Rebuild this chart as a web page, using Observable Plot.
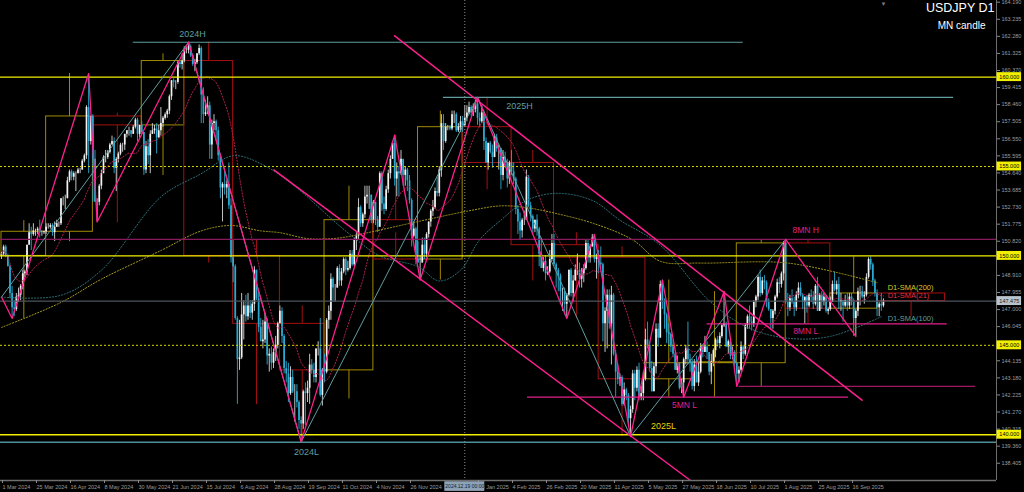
<!DOCTYPE html>
<html><head><meta charset="utf-8">
<script src="https://cdn.jsdelivr.net/npm/d3@7"></script>
<script src="https://cdn.jsdelivr.net/npm/@observablehq/plot@0.6"></script>
<style>html,body{margin:0;padding:0;background:#000;overflow:hidden}svg{display:block}</style>
</head><body><div id="chart"></div>
<script>
// ---- axis ticks ----
const yTicks = [164.190,163.235,162.280,161.325,160.370,159.415,158.460,157.505,156.550,155.595,154.640,153.685,152.730,151.775,150.820,148.910,147.955,147.000,146.045,144.135,143.180,142.225,141.270,140.315,139.360,138.405];
const xTickIdx = [0,16,32,48,64,80,96,112,128,144,160,176,192,224,240,256,272,288,304,320,336,352,368,384,400];
const xTickLabels = ["1 Mar 2024","25 Mar 2024","16 Apr 2024","8 May 2024","30 May 2024","21 Jun 2024","15 Jul 2024","6 Aug 2024","28 Aug 2024","19 Sep 2024","11 Oct 2024","4 Nov 2024","26 Nov 2024","13 Jan 2025","4 Feb 2025","26 Feb 2025","20 Mar 2025","11 Apr 2025","5 May 2025","27 May 2025","18 Jun 2025","10 Jul 2025","1 Aug 2025","25 Aug 2025","16 Sep 2025"];

// ---- daily candles [open, high, low, close] ----
const mar24 = [[150.0,150.2,149.8,150.1],[150.1,150.6,150.0,150.5],[150.5,150.6,149.9,150.0],[150.0,150.1,149.4,149.4],[149.4,149.5,147.6,147.9],[147.9,148.3,146.5,147.1],[147.1,147.5,146.6,147.0],[147.0,147.9,146.9,147.7],[147.7,148.2,147.4,147.8],[147.8,148.4,147.5,148.3],[148.3,149.2,148.1,149.0],[149.0,149.2,148.8,149.1],[149.1,150.6,148.9,150.6],[150.6,151.8,150.6,151.3],[151.3,151.6,150.3,151.2],[151.2,151.8,151.1,151.4],[151.4,151.5,151.1,151.4],[151.4,151.6,151.2,151.5],[151.5,152.0,151.0,151.3],[151.3,151.4,151.1,151.3],[151.3,151.4,151.2,151.35]];
const apr24 = [[151.35,151.8,151.2,151.6],[151.6,151.8,151.5,151.6],[151.6,151.8,151.5,151.7],[151.7,151.8,151.1,151.3],[151.3,151.9,150.8,151.6],[151.6,152.0,151.6,151.8],[151.8,151.9,151.6,151.8],[151.8,153.2,151.7,153.2],[153.2,153.3,152.8,153.2],[153.2,153.4,152.6,153.2],[153.2,154.4,153.2,154.2],[154.2,154.8,154.1,154.7],[154.7,154.8,154.2,154.4],[154.4,154.7,154.2,154.6],[154.6,154.7,153.6,154.6],[154.6,154.9,154.6,154.8],[154.8,154.9,154.6,154.8],[154.8,155.4,154.8,155.3],[155.3,155.7,155.2,155.6],[155.6,158.4,155.4,158.3],[158.3,160.2,154.6,156.4],[156.4,157.8,156.2,157.8]];
const may24 = [[157.8,157.9,153.0,155.4],[155.4,155.9,153.0,153.0],[153.0,153.2,151.9,153.0],[153.0,154.0,152.8,153.9],[153.9,154.8,153.7,154.6],[154.6,155.6,154.6,155.5],[155.5,155.9,155.2,155.5],[155.5,155.9,155.4,155.8],[155.8,156.3,155.7,156.2],[156.2,156.7,156.2,156.4],[156.4,156.6,154.6,154.9],[154.9,155.5,153.6,155.4],[155.4,155.8,155.2,155.7],[155.7,156.3,155.6,156.2],[156.2,156.3,155.8,156.2],[156.2,156.8,155.9,156.8],[156.8,157.0,156.6,157.0],[157.0,157.2,156.7,157.0],[157.0,157.0,156.6,156.8],[156.8,157.3,156.8,157.2],[157.2,157.7,157.1,157.6],[157.6,157.7,156.4,156.8],[156.8,157.3,156.6,157.3]];
const jun24 = [[157.3,157.5,156.8,156.9],[156.9,156.9,154.5,154.8],[154.8,156.4,154.6,156.1],[156.1,156.5,155.1,155.6],[155.6,157.0,154.6,156.8],[156.8,157.4,156.8,157.0],[157.0,157.3,156.8,157.1],[157.1,157.4,155.7,156.6],[156.6,157.3,156.6,157.0],[157.0,158.3,156.7,157.4],[157.4,157.8,157.2,157.7],[157.7,158.0,157.6,157.9],[157.9,158.2,157.7,158.1],[158.1,159.0,157.9,158.9],[158.9,159.8,158.7,159.8],[159.8,159.9,159.4,159.7],[159.7,159.8,159.3,159.7],[159.7,160.9,159.6,160.8],[160.8,160.9,160.5,160.7],[160.7,161.3,160.4,160.9]];
const jul24 = [[160.9,161.7,160.8,161.5],[161.5,161.7,161.3,161.5],[161.5,161.95,161.3,161.7],[161.7,161.8,161.1,161.2],[161.2,161.3,160.6,160.7],[160.7,161.0,160.3,160.8],[160.8,161.3,160.7,161.3],[161.3,161.8,161.2,161.6],[161.6,161.7,157.4,159.0],[159.0,159.4,157.4,157.9],[157.9,158.7,157.8,158.0],[158.0,158.9,157.9,158.4],[158.4,158.6,155.4,156.2],[156.2,157.6,155.4,157.4],[157.4,157.9,157.0,157.5],[157.5,157.6,156.5,157.0],[157.0,157.2,155.3,155.6],[155.6,155.7,153.2,153.8],[153.8,154.1,151.9,154.0],[154.0,154.7,153.4,153.8],[153.8,154.2,153.2,154.0],[154.0,155.2,152.6,152.8],[152.8,153.2,149.6,149.9]];
const aug24 = [[149.9,150.9,148.5,149.4],[149.4,149.5,146.4,146.5],[146.5,146.6,141.7,144.2],[144.2,146.4,143.6,144.3],[144.3,147.9,144.2,146.7],[146.7,147.5,145.3,147.2],[147.2,147.8,146.3,146.6],[146.6,147.9,146.4,147.2],[147.2,147.5,146.5,146.8],[146.8,147.5,146.4,147.3],[147.3,149.4,146.9,149.2],[149.2,149.2,147.5,147.6],[147.6,148.0,145.7,146.0],[146.0,146.5,145.2,145.2],[145.2,146.4,144.8,145.3],[145.3,146.8,145.1,146.3],[146.3,146.5,143.9,144.4],[144.4,144.8,143.5,144.5],[144.5,144.9,143.6,144.0],[144.0,144.8,143.7,144.6],[144.6,145.5,144.1,145.0],[145.0,146.3,144.8,146.2]];
const sep24 = [[146.2,147.2,146.2,146.9],[146.9,147.1,145.1,145.5],[145.5,145.6,143.4,143.7],[143.7,144.1,142.9,143.4],[143.4,144.0,141.8,142.3],[142.3,143.8,142.2,143.2],[143.2,143.6,142.3,142.4],[142.4,142.8,140.7,142.4],[142.4,142.8,141.5,141.8],[141.8,141.9,140.3,140.8],[140.8,141.0,139.6,140.6],[140.6,142.5,140.3,142.4],[142.4,142.9,140.5,142.3],[142.3,143.0,141.8,142.6],[142.6,144.5,141.7,143.9],[143.9,144.2,143.4,143.6],[143.6,144.0,142.9,143.2],[143.2,144.8,142.9,144.8],[144.8,145.2,144.4,144.8],[144.8,146.5,142.1,142.2],[142.2,143.7,141.6,143.6]];
const oct24 = [[143.6,144.5,142.9,143.5],[143.5,146.5,143.4,146.4],[146.4,147.2,145.9,146.9],[146.9,149.0,146.4,148.7],[148.7,148.8,147.4,148.2],[148.2,148.4,147.4,148.2],[148.2,149.4,148.2,149.3],[149.3,149.5,148.3,148.6],[148.6,149.3,148.3,149.1],[149.1,149.9,149.0,149.8],[149.8,149.9,148.9,149.2],[149.2,149.7,149.1,149.3],[149.3,150.3,149.2,150.1],[150.1,150.3,149.4,149.5],[149.5,151.0,149.4,150.9],[150.9,151.3,150.3,151.1],[151.1,153.2,150.9,152.7],[152.7,152.8,151.6,151.8],[151.8,152.4,151.6,152.3],[152.3,153.9,152.1,153.3],[153.3,153.9,152.9,153.4],[153.4,153.9,152.6,153.4],[153.4,153.4,151.8,152.0]];
const nov24 = [[152.0,153.1,151.8,153.0],[153.0,153.0,151.7,152.0],[152.0,152.2,151.3,151.6],[151.6,154.7,151.6,154.6],[154.6,154.7,152.5,152.9],[152.9,153.3,152.3,152.6],[152.6,153.9,152.5,153.7],[153.7,154.8,153.5,154.6],[154.6,155.6,154.3,155.4],[155.4,156.4,155.4,156.3],[156.3,156.75,153.9,154.3],[154.3,155.2,153.3,154.7],[154.7,155.0,153.3,154.6],[154.6,155.9,154.5,155.4],[155.4,155.4,153.9,154.5],[154.5,155.0,153.9,154.8],[154.8,154.9,153.6,154.2],[154.2,154.5,152.9,153.1],[153.1,153.2,150.5,151.1],[151.1,151.9,151.0,151.5],[151.5,151.6,149.5,149.8]];
const dec24 = [[149.8,150.8,149.6,149.6],[149.6,150.0,148.65,149.6],[149.6,151.0,149.6,150.6],[150.6,151.0,149.8,150.1],[150.1,151.3,149.9,151.2],[151.2,151.9,151.0,151.9],[151.9,152.6,151.6,152.5],[152.5,153.1,152.2,152.7],[152.7,153.8,152.6,153.6],[153.6,154.4,153.3,153.5],[153.5,155.0,153.3,154.8],[154.8,157.9,154.4,157.4],[157.4,157.9,155.9,156.4],[156.4,157.4,156.3,157.2],[157.2,157.3,157.0,157.2],[157.2,157.3,157.0,157.1],[157.1,158.1,157.0,157.9],[157.9,158.1,157.4,157.9],[157.9,158.0,156.9,157.0],[157.0,157.4,156.9,157.2],[157.2,157.8,156.9,157.5]];
const jan25 = [[157.5,157.8,156.9,157.3],[157.3,158.4,157.2,157.7],[157.7,158.4,157.5,158.0],[158.0,158.6,157.9,158.3],[158.3,158.4,157.8,158.0],[158.0,158.5,157.8,158.2],[158.2,158.7,158.0,158.5],[158.5,158.87,157.3,157.7],[157.7,158.0,157.2,157.5],[157.5,158.4,157.4,158.0],[158.0,158.1,155.9,156.4],[156.4,156.6,155.2,155.2],[155.2,156.3,154.8,156.3],[156.3,156.4,155.7,155.8],[155.8,156.2,154.9,155.5],[155.5,156.8,155.5,156.6],[156.6,156.8,155.8,156.0],[156.0,156.2,154.8,156.0],[156.0,156.0,153.7,154.5],[154.5,155.9,154.2,155.5],[155.5,155.8,154.9,155.2],[155.2,155.4,153.8,154.3],[154.3,155.3,154.0,155.2]];
const feb25 = [[155.2,155.9,154.5,154.7],[154.7,155.2,154.0,154.3],[154.3,154.4,152.3,152.6],[152.6,152.8,151.2,151.9],[151.9,152.4,150.9,151.4],[151.4,152.1,151.0,152.0],[152.0,152.5,151.7,152.0],[152.0,154.8,152.0,154.4],[154.4,154.5,152.7,152.8],[152.8,153.0,151.9,152.2],[152.2,152.3,151.2,151.5],[151.5,152.0,151.3,152.0],[152.0,152.3,151.1,151.5],[151.5,151.6,149.4,150.1],[150.1,151.0,149.3,149.3],[149.3,149.9,149.1,149.7],[149.7,150.0,148.6,149.0],[149.0,149.4,148.9,149.1],[149.1,150.3,149.0,149.8],[149.8,151.2,149.7,150.7]];
const mar25 = [[150.7,151.2,149.4,149.5],[149.5,149.6,148.2,149.2],[149.2,149.3,148.0,148.9],[148.9,149.0,147.3,148.0],[148.0,148.2,146.9,148.0],[148.0,148.2,146.7,147.3],[147.3,147.9,146.5,147.8],[147.8,149.2,147.7,149.2],[149.2,149.3,147.7,147.9],[147.9,148.9,147.4,148.6],[148.6,149.5,148.6,149.2],[149.2,150.1,148.9,149.2],[149.2,149.6,148.2,148.7],[148.7,149.3,148.2,149.0],[149.0,149.5,148.5,149.3],[149.3,150.9,149.2,150.7],[150.7,150.9,149.6,149.9],[149.9,150.6,149.6,150.5],[150.5,151.2,150.5,151.0],[151.0,151.2,149.6,149.8],[149.8,150.1,148.7,149.9]];
const apr25 = [[149.9,150.3,149.0,149.6],[149.6,150.5,149.3,149.5],[149.5,149.6,145.2,146.2],[146.2,147.1,144.6,146.9],[146.9,148.1,144.8,147.8],[147.8,148.1,145.9,146.2],[146.2,148.3,143.9,147.8],[147.8,147.9,144.4,144.5],[144.5,144.7,142.1,143.5],[143.5,143.9,142.8,143.1],[143.1,143.4,142.7,143.2],[143.2,143.3,141.6,141.7],[141.7,142.9,141.6,142.5],[142.5,142.6,141.9,142.2],[142.2,142.3,140.6,140.9],[140.9,141.6,139.9,141.4],[141.4,143.6,141.2,143.4],[143.4,143.6,141.9,142.6],[142.6,143.8,142.4,143.6],[143.6,144.0,141.9,142.1],[142.1,142.7,141.9,142.3],[142.3,143.5,141.9,143.1]];
const may25 = [[143.1,145.9,143.0,145.3],[145.3,146.3,144.8,145.0],[145.0,145.2,143.5,143.7],[143.7,144.1,142.4,142.4],[142.4,144.0,142.4,143.8],[143.8,146.2,143.4,145.9],[145.9,146.2,144.9,145.4],[145.4,148.6,145.4,148.4],[148.4,148.65,147.0,147.5],[147.5,147.6,145.9,146.7],[146.7,146.8,145.1,145.7],[145.7,146.2,145.0,145.6],[145.6,145.7,144.6,144.9],[144.9,145.3,144.3,144.5],[144.5,144.6,143.6,143.6],[143.6,144.4,143.4,144.0],[144.0,144.0,142.5,142.6],[142.6,143.1,142.3,142.9],[142.9,144.3,142.1,144.2],[144.2,145.0,143.9,144.8],[144.8,146.3,143.9,144.2],[144.2,144.5,143.5,144.0]];
const jun25 = [[144.0,144.2,142.5,142.7],[142.7,144.2,142.4,143.9],[143.9,144.4,142.9,142.9],[142.9,144.0,142.7,143.5],[143.5,145.1,143.4,144.9],[144.9,145.0,144.3,144.6],[144.6,145.5,144.6,144.9],[144.9,145.2,144.2,144.6],[144.6,144.6,143.3,143.5],[143.5,144.5,142.8,144.1],[144.1,144.8,143.8,144.7],[144.7,145.4,144.3,145.3],[145.3,145.5,144.9,145.1],[145.1,145.7,144.8,145.5],[145.5,146.2,145.4,146.1],[146.1,148.0,146.0,146.2],[146.2,146.3,144.9,144.9],[144.9,145.3,144.5,145.2],[145.2,145.3,144.2,144.4],[144.4,144.9,144.2,144.6],[144.6,144.7,143.8,144.0]];
const jul25 = [[144.0,144.0,142.7,143.4],[143.4,143.8,142.9,143.6],[143.6,145.2,143.5,144.9],[144.9,145.0,144.2,144.5],[144.5,146.2,144.4,146.1],[146.1,146.7,145.9,146.6],[146.6,147.2,145.9,146.3],[146.3,146.6,145.8,146.2],[146.2,147.5,146.0,147.4],[147.4,147.8,147.1,147.7],[147.7,148.9,147.5,148.8],[148.8,149.2,147.7,147.9],[147.9,148.8,147.8,148.6],[148.6,148.9,148.1,148.5],[148.5,148.6,147.1,147.4],[147.4,147.6,146.9,147.0],[147.0,147.0,145.9,146.5],[146.5,147.0,145.9,146.9],[146.9,147.8,146.7,147.7],[147.7,148.7,147.6,148.5],[148.5,148.8,147.9,148.4],[148.4,149.1,148.2,149.0],[149.0,150.8,148.6,150.7]];
const aug25 = [[150.7,150.92,147.3,147.4],[147.4,147.9,146.6,147.1],[147.1,147.8,146.9,147.6],[147.6,148.1,147.3,147.4],[147.4,147.7,146.6,147.1],[147.1,148.0,146.9,147.8],[147.8,148.5,147.6,148.2],[148.2,148.5,147.7,147.8],[147.8,147.9,147.0,147.4],[147.4,147.6,146.2,147.7],[147.7,147.8,146.8,147.2],[147.2,147.9,147.1,147.8],[147.8,148.1,147.4,147.7],[147.7,148.0,147.0,147.3],[147.3,148.4,147.2,148.3],[148.3,148.8,146.9,146.9],[146.9,147.9,146.9,147.8],[147.8,148.0,147.0,147.4],[147.4,147.9,147.2,147.7],[147.7,147.8,146.8,146.9],[146.9,147.1,146.7,147.0]];
const sep25 = [[147.0,147.7,146.9,147.4],[147.4,148.6,147.4,148.4],[148.4,149.1,148.0,148.1],[148.1,148.6,147.8,148.4],[148.4,148.8,147.0,147.4],[147.4,147.9,146.9,147.5],[147.5,147.5,146.3,147.2],[147.2,147.8,147.1,147.5],[147.5,147.9,146.9,147.2],[147.2,147.9,147.0,147.7],[147.7,147.9,147.2,147.4],[147.4,147.6,146.2,146.5],[146.5,147.0,145.5,146.9],[146.9,148.2,146.6,148.0],[148.0,148.3,147.2,148.0],[148.0,148.3,147.6,147.7],[147.7,148.0,147.3,147.8],[147.8,149.0,147.7,148.8],[148.8,149.9,148.7,149.8],[149.8,149.95,149.2,149.5],[149.5,149.6,148.3,148.6],[148.6,148.7,147.7,147.9]];
const oct25 = [[147.9,148.1,146.6,147.1],[147.1,147.4,146.6,147.3],[147.3,147.9,146.9,147.2],[147.2,147.6,147.1,147.475]];

// ---- monthly candles (MN overlay) ----
const monthStart = [0,21,43,66,86,109,131,152,175,196,217,240,260,281,303,325,346,369,390,412];
const monthEnd   = [21,43,66,86,109,131,152,175,196,217,240,260,281,303,325,346,369,390,412,444];
const monthOpen  = [150.0,151.35,157.8,157.3,160.9,150.0,146.2,143.6,152.0,149.8,157.2,155.2,150.6,149.9,143.1,144.0,144.0,150.7,147.05,147.9];
const monthHigh  = [151.97,160.2,157.99,161.3,161.95,150.9,147.2,153.9,156.75,158.1,158.87,155.9,151.3,150.5,148.65,148.0,150.9,150.92,149.95,148.1];
const monthLow   = [146.5,150.8,151.86,154.5,149.6,141.68,139.58,142.0,151.3,148.65,153.7,148.6,146.5,139.89,142.1,142.1,142.7,146.2,145.5,146.6];
const monthClose = [151.35,157.8,157.3,160.9,150.0,146.2,143.6,152.0,149.8,157.2,155.2,150.6,149.9,143.1,144.0,144.05,150.7,147.05,147.9,147.475];

// ---- moving averages ----
const sma100Idx = [0,28,47,75,94,109,123,139,155,164,178,196,206,216,225,235,247,261,278,291,310,333,351,370,390,414];
const sma100Val = [147.7,147.8,149.2,153.3,154.6,155.6,155.1,153.8,152.1,151.2,150.0,149.4,148.6,149.2,150.9,152.0,153.1,153.5,153.1,152.0,150.6,147.5,146.0,145.4,145.5,146.6];
const sma200Idx = [0,28,47,75,94,108,122,131,144,156,164,199,219,235,247,260,279,297,310,329,370,412];
const sma200Val = [146.0,147.4,148.7,150.3,151.4,151.7,151.4,151.3,150.97,150.97,151.1,152.0,152.5,152.8,152.7,152.4,151.8,150.9,149.7,149.6,149.6,148.5];

// ---- levels & drawings ----
const solidLevels = [160,150,140];
const dottedLevels = [155,145];
const monthHighLevel = [150.92];
const currentPrice = [147.475];
const yearLowLevel = [139.58];
const tealSegPrice = [161.95,158.87];
const tealSegFrom = [62,208];
const tealSegTo = [349,448];
const pinkSegPrice = [142.1,146.2];
const pinkSegFrom = [247.5,332];
const pinkSegTo = [398.6,445];
const plumSegPrice = [142.7];
const plumSegFrom = [347];
const plumSegTo = [458.4];
const channelFrom = [[184.7,162.33],[128,154.83]];
const channelTo = [[405.2,141.91],[324.2,137.44]];
const zzIdx = [0,5,41,45,88,141,185,197,224,266,279,296,311,321,340,346,369,402];
const zzPrice = [147.7,146.5,160.2,151.9,161.95,139.6,156.75,148.65,158.87,146.5,151.2,139.9,148.65,142.1,148.0,142.7,150.92,145.5];
const bigZzIdx = [0,88,141,224,296,369];
const bigZzPrice = [147.7,161.95,139.6,158.87,139.9,150.92];
const tealLabels = ["2024H","2025H","2024L"];
const tealLabelIdx = [89.9,243.8,143.5];
const tealLabelPrice = [162.38,158.36,139.0];
const pinkLabels = ["5MN L","8MN H","8MN L"];
const pinkLabelIdx = [321.4,378.4,378.4];
const pinkLabelPrice = [141.63,151.42,145.77];
const lowLabel = ["2025L"];
const lowLabelIdx = [311.5];
const lowLabelPrice = [140.5];
const smaNames = ["D1-SMA(200)","D1-SMA(21)","D1-SMA(100)"];
const smaLabelPrice = [148.23,147.79,146.5];
const smaLabelIdx = 417;
const priceTags = [160,155,150,145,140];
const crossIdx = 218;
const crossText = "2024.12.19 00:00";

// ---- build tables ----
const rows = [].concat(mar24,apr24,may24,jun24,jul24,aug24,sep24,oct24,nov24,dec24,jan25,feb25,mar25,apr25,may25,jun25,jul25,aug25,sep25,oct25);
const candles = rows.map(([o,h,l,c],i) => ({i,o,h,l,c,up:c>=o}));
const months = monthStart.map((s,k) => ({s, e:monthEnd[k], m:(s+monthEnd[k])/2, o:monthOpen[k], h:monthHigh[k], l:monthLow[k], c:monthClose[k], up:monthClose[k]>=monthOpen[k]}));
const sma100 = sma100Idx.map((x,k)=>({x,y:sma100Val[k]}));
const sma200 = sma200Idx.map((x,k)=>({x,y:sma200Val[k]}));
const zz = zzIdx.map((x,k)=>({x,y:zzPrice[k]}));
const bigZz = bigZzIdx.map((x,k)=>({x,y:bigZzPrice[k]}));
const channels = channelFrom.map((a,k)=>({x1:a[0],y1:a[1],x2:channelTo[k][0],y2:channelTo[k][1]}));
const xDom = [-0.47, 468.2], yDom = [137.44, 164.285];
const tagX1 = xDom[1] + 0.25, tagX2 = 480, tagXm = (tagX1+tagX2)/2, tagH = 0.25;

const UP = "#f2f2f2", DOWN = "#29abd3", MUP = "#a08a00", MDN = "#a31010";
const PINK = "#ff1f8e", TEAL = "#5f9ea0";
const AX = "#9c9c9c";

const chart = Plot.plot({
  width: 1024, height: 492,
  marginLeft: 0, marginRight: 28, marginTop: 0, marginBottom: 12,
  style: {background:"#000", color:AX, fontFamily:"'Liberation Sans', Arial, sans-serif", fontSize:"5.5px"},
  x: {type:"linear", domain:xDom, axis:null},
  y: {domain:yDom, axis:null},
  marks: [
    // monthly candle overlay
    Plot.rect(months, {x1:"s", x2:"e", y1:"o", y2:"c", fill:"none", stroke:d=>d.up?MUP:MDN, strokeWidth:1}),
    Plot.ruleX(months, {x:"m", y1:"h", y2:d=>Math.max(d.o,d.c), stroke:d=>d.up?MUP:MDN, strokeWidth:1}),
    Plot.ruleX(months, {x:"m", y1:d=>Math.min(d.o,d.c), y2:"l", stroke:d=>d.up?MUP:MDN, strokeWidth:1}),
    // candles
    Plot.ruleX(candles, {x:"i", y1:"l", y2:"h", stroke:d=>d.up?"#d8d8d8":DOWN, strokeWidth:0.9}),
    Plot.ruleX(candles, {x:"i", y1:"o", y2:"c", stroke:d=>d.up?UP:DOWN, strokeWidth:1.7}),
    // SMAs
    Plot.lineY(candles, Plot.windowY({k:21, anchor:"end", reduce:"mean"}, {x:"i", y:"c", stroke:"#b3204f", strokeWidth:1, strokeDasharray:"1.2,1.8"})),
    Plot.line(sma100, {x:"x", y:"y", curve:"catmull-rom", stroke:"#2e7078", strokeWidth:1, strokeDasharray:"1.2,1.8"}),
    Plot.line(sma200, {x:"x", y:"y", curve:"catmull-rom", stroke:"#a69c1c", strokeWidth:1, strokeDasharray:"1.2,1.8"}),
    // horizontal levels
    Plot.ruleY(monthHighLevel, {stroke:"#8a1a5e", strokeWidth:1.3}),
    Plot.ruleY(currentPrice, {stroke:"#4c545c", strokeWidth:1.3}),
    Plot.ruleY(yearLowLevel, {stroke:"#4f9096", strokeWidth:1.3}),
    Plot.ruleY(dottedLevels, {stroke:"#d6d600", strokeWidth:1, strokeDasharray:"2,2"}),
    Plot.ruleY(solidLevels, {stroke:"#f0f000", strokeWidth:1.4}),
    Plot.ruleY(tealSegPrice, {y:d=>d, x1:(d,k)=>tealSegFrom[k], x2:(d,k)=>tealSegTo[k], stroke:TEAL, strokeWidth:1.2}),
    Plot.ruleY(pinkSegPrice, {y:d=>d, x1:(d,k)=>pinkSegFrom[k], x2:(d,k)=>pinkSegTo[k], stroke:"#e0208a", strokeWidth:1.2}),
    Plot.ruleY(plumSegPrice, {y:d=>d, x1:(d,k)=>plumSegFrom[k], x2:(d,k)=>plumSegTo[k], stroke:"#a0185f", strokeWidth:1.2}),
    // channel lines
    Plot.link(channels, {x1:"x1", y1:"y1", x2:"x2", y2:"y2", stroke:PINK, strokeWidth:1.5}),
    // zigzags
    Plot.line(bigZz, {x:"x", y:"y", stroke:TEAL, strokeWidth:1}),
    Plot.line(zz, {x:"x", y:"y", stroke:PINK, strokeWidth:1.3}),
    // crosshair
    Plot.ruleX([crossIdx], {stroke:"#8a8a8a", strokeWidth:1, strokeDasharray:"1,2"}),
    // labels
    Plot.text(tealLabels, {x:(d,k)=>tealLabelIdx[k], y:(d,k)=>tealLabelPrice[k], text:d=>d, fill:TEAL, fontSize:9}),
    Plot.text(pinkLabels, {x:(d,k)=>pinkLabelIdx[k], y:(d,k)=>pinkLabelPrice[k], text:d=>d, fill:"#e0208a", fontSize:8.5}),
    Plot.text(lowLabel, {x:(d,k)=>lowLabelIdx[k], y:(d,k)=>lowLabelPrice[k], text:d=>d, fill:"#e8d400", fontSize:9}),
    Plot.text(smaNames, {x:()=>smaLabelIdx, y:(d,k)=>smaLabelPrice[k], text:d=>d, textAnchor:"start", fill:(d,k)=>["#d8c830","#e0304a","#5f9ea0"][k], fontSize:7.5}),
    Plot.text(["USDJPY D1"], {frameAnchor:"top-right", dx:-2, dy:3, textAnchor:"end", fill:"#ffffff", fontSize:12.5}),
    Plot.text(["MN candle"], {frameAnchor:"top-right", dx:-11, dy:21, textAnchor:"end", fill:"#ffffff", fontSize:10}),
    Plot.text(["▼"], {x:[415], frameAnchor:"top", dy:1, fill:"#7a7a7a", fontSize:6}),
    // axes
    Plot.ruleY([yDom[0]], {stroke:"#6e6e6e", strokeWidth:1.5}),
    Plot.ruleX([xDom[1]], {stroke:"#6e6e6e", strokeWidth:1}),
    Plot.axisY({anchor:"right", ticks:yTicks, tickFormat:d3.format(".3f"), tickSize:3, tickPadding:2, label:null, fontSize:5.5, fill:AX, stroke:"#8a8a8a"}),
    Plot.axisX({anchor:"bottom", ticks:xTickIdx, tickFormat:i=>xTickLabels[xTickIdx.indexOf(i)], tickSize:3, tickPadding:2, textAnchor:"start", dx:1, label:null, fontSize:5.5, fill:AX, stroke:"#8a8a8a"}),
    // price tags
    Plot.rect(priceTags, {x1:()=>tagX1, x2:()=>tagX2, y1:d=>d-tagH, y2:d=>d+tagH, fill:"#f0f000"}),
    Plot.text(priceTags, {x:()=>tagXm, y:d=>d, text:d=>d3.format(".3f")(d), fill:"#000", fontSize:5.5}),
    Plot.rect(currentPrice, {x1:()=>tagX1, x2:()=>tagX2, y1:d=>d-tagH, y2:d=>d+tagH, fill:"#b8c4cc"}),
    Plot.text(currentPrice, {x:()=>tagXm, y:d=>d, text:d=>d3.format(".3f")(d), fill:"#1a1a1a", fontSize:5.5}),
    // crosshair time tag
    Plot.rect([crossIdx], {x1:d=>d-9.4, x2:d=>d+9.4, y1:()=>136.83, y2:()=>137.37, fill:"#8ea2b6"}),
    Plot.text([crossText], {x:()=>crossIdx, y:()=>137.1, text:d=>d, fill:"#102030", fontSize:5})
  ]
});
document.getElementById("chart").appendChild(chart);
</script></body></html>
